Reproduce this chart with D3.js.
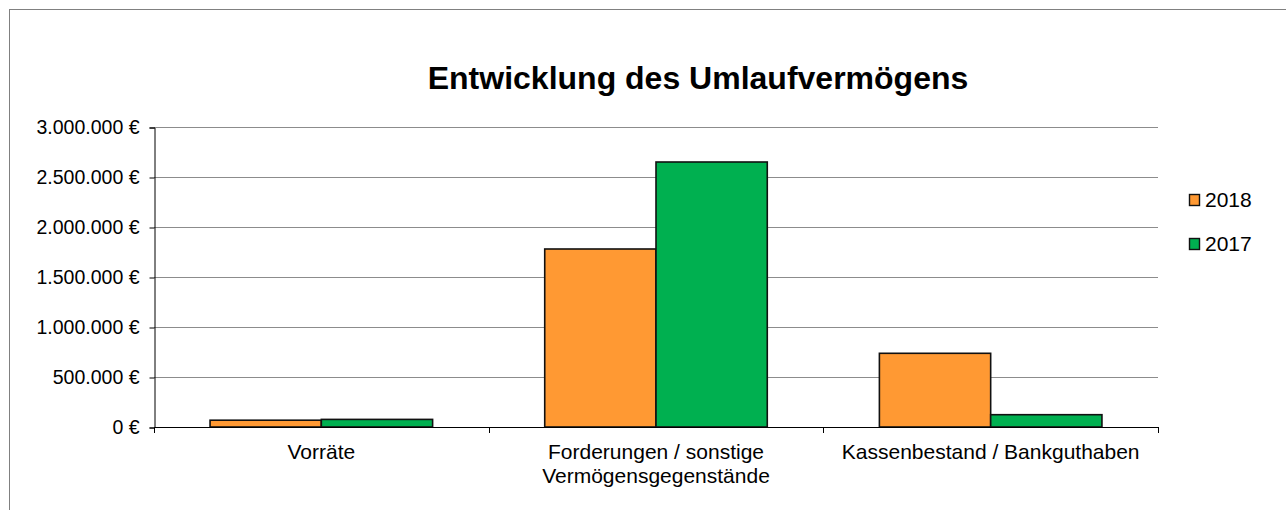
<!DOCTYPE html>
<html>
<head>
<meta charset="utf-8">
<script src="https://cdn.jsdelivr.net/npm/d3@7"></script>
<style>
  body { margin: 0; background: #fff; }
  text { font-family: "Liberation Sans", Arial, sans-serif; }
</style>
</head>
<body>
<script>
var categories = [["Vorräte"], ["Forderungen / sonstige", "Vermögensgegenstände"], ["Kassenbestand / Bankguthaben"]];
var seriesNames = ["2018", "2017"];
var values2018 = [68000, 1780000, 737000];
var values2017 = [76000, 2650000, 123000];
var yTicks = [0, 500000, 1000000, 1500000, 2000000, 2500000, 3000000];
var colors = ["#FF9933", "#00B050"];

(function() {
    var width = 1286, height = 510;
    var margin = {top: 127, left: 154, right: 128};
    var svg = d3.select("body").append("svg")
        .attr("width", width)
        .attr("height", height);

    // outer chart frame
    svg.append("rect")
        .attr("x", 9.5).attr("y", 9.5)
        .attr("width", 1400).attr("height", 600)
        .attr("fill", "none").attr("stroke", "#808080").attr("stroke-width", 1);

    var chartW = width - margin.left - margin.right;
    var chartH = 300;
    var g = svg.append("g").attr("transform", `translate(${margin.left},${margin.top})`);

    var x0 = d3.scaleBand().domain(d3.range(categories.length)).range([0, chartW]).paddingInner(0.335).paddingOuter(0.1675);
    var x1 = d3.scaleBand().domain(seriesNames).range([0, x0.bandwidth()]);
    var y = d3.scaleLinear().domain([0, 3000000]).range([chartH, 0]);

    var fmt = d3.formatLocale({decimal: ",", thousands: ".", grouping: [3], currency: ["", " €"]}).format("$,.0f");

    // gridlines
    g.selectAll(".grid").data(yTicks.slice(1)).enter().append("line")
        .attr("x1", 0).attr("x2", chartW)
        .attr("y1", d => Math.round(y(d)) + 0.5).attr("y2", d => Math.round(y(d)) + 0.5)
        .attr("stroke", "#8c8c8c").attr("stroke-width", 1);

    var yAxis = g.append("g")
        .attr("transform", "translate(0.5,0.5)")
        .call(d3.axisLeft(y).tickValues(yTicks).tickSize(5).tickPadding(10).tickFormat(fmt));
    yAxis.select(".domain").attr("stroke", "#000");
    yAxis.selectAll(".tick line").attr("stroke", "#000");
    yAxis.selectAll("text").attr("font-size", 19.5).attr("fill", "#000")
        .attr("font-family", "Liberation Sans, Arial, sans-serif");

    var data = categories.map((c, i) => ({i: i, vals: [values2018[i], values2017[i]]}));

    var groups = g.selectAll(".cat").data(data).enter().append("g")
        .attr("transform", d => `translate(${x0(d.i)},0)`);
    groups.selectAll("rect").data(d => d.vals.map((v, k) => ({k: k, v: v}))).enter().append("rect")
        .attr("x", d => x1(seriesNames[d.k]))
        .attr("y", d => y(d.v))
        .attr("width", x1.bandwidth())
        .attr("height", d => chartH - y(d.v))
        .attr("fill", d => colors[d.k])
        .attr("stroke", "#111").attr("stroke-width", 1.6);

    // x axis
    var step = chartW / categories.length;
    g.append("line").attr("x1", 0).attr("x2", chartW).attr("y1", chartH + 0.5).attr("y2", chartH + 0.5)
        .attr("stroke", "#000");
    g.selectAll(".xtick").data(d3.range(categories.length + 1)).enter().append("line")
        .attr("x1", d => Math.round(d * step) + 0.5).attr("x2", d => Math.round(d * step) + 0.5)
        .attr("y1", chartH).attr("y2", chartH + 6)
        .attr("stroke", "#000");

    var labels = g.selectAll(".xlabel").data(categories).enter().append("text")
        .attr("text-anchor", "middle")
        .attr("font-size", 21)
        .attr("transform", (d, i) => `translate(${(i + 0.5) * step},${chartH + 32})`);
    labels.selectAll("tspan").data(d => d).enter().append("tspan")
        .attr("x", 0).attr("dy", (d, i) => i === 0 ? 0 : 24)
        .text(d => d);

    // title
    svg.append("text")
        .attr("x", 698).attr("y", 89)
        .attr("text-anchor", "middle")
        .attr("font-size", 32).attr("font-weight", "bold")
        .text("Entwicklung des Umlaufvermögens");

    // legend
    var legend = svg.append("g").attr("transform", "translate(1189,194)");
    var li = legend.selectAll("g").data(seriesNames).enter().append("g")
        .attr("transform", (d, i) => `translate(0,${i * 44})`);
    li.append("rect").attr("x", 0.5).attr("y", 0.5).attr("width", 10).attr("height", 11)
        .attr("fill", (d, i) => colors[i]).attr("stroke", "#111").attr("stroke-width", 1.4);
    li.append("text").attr("x", 16).attr("y", 13).attr("font-size", 21).text(d => d);
})();
</script>
</body>
</html>
